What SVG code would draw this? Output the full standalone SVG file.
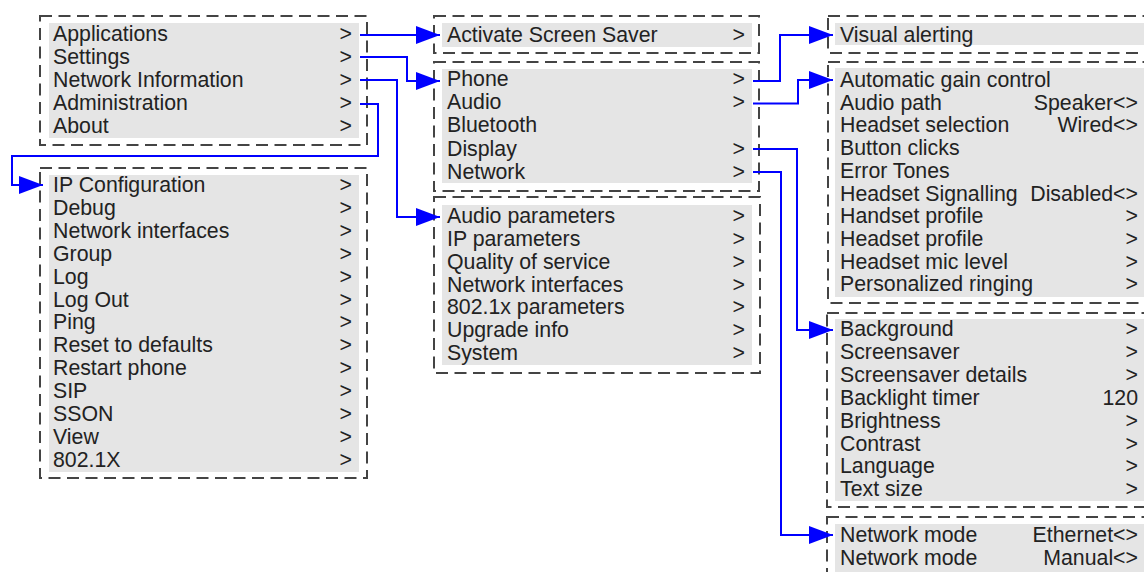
<svg xmlns="http://www.w3.org/2000/svg" width="1144" height="572" viewBox="0 0 1144 572">
<style>
.frame{fill:#fff;stroke:#444;stroke-width:2;stroke-dasharray:12 6.5}
.bg{fill:#e5e5e5}
text{font-family:"Liberation Sans",Arial,sans-serif;font-size:21.3px;fill:#222}
.r{text-anchor:end}
.conn{fill:none;stroke:#0000ff;stroke-width:2}
</style>
<defs>
<marker id="ah" markerUnits="userSpaceOnUse" markerWidth="26" markerHeight="20" refX="24" refY="9" orient="auto">
<path d="M0,0 L24,9 L0,18 Z" fill="#0000ff"/>
</marker>
</defs>
<rect width="1144" height="572" fill="#fff"/>

<g id="main-menu">
<rect class="frame" x="40" y="16" width="327" height="129"/>
<rect class="bg" x="49" y="23" width="310" height="115"/>
<text x="53" y="40.5">Applications</text><text class="r" x="352" y="40.5">&gt;</text>
<text x="53" y="63.7">Settings</text><text class="r" x="352" y="63.7">&gt;</text>
<text x="53" y="86.9">Network Information</text><text class="r" x="352" y="86.9">&gt;</text>
<text x="53" y="110.1">Administration</text><text class="r" x="352" y="110.1">&gt;</text>
<text x="53" y="133.3">About</text><text class="r" x="352" y="133.3">&gt;</text>
</g>

<g id="admin-menu">
<rect class="frame" x="40" y="168" width="327" height="310"/>
<rect class="bg" x="49" y="175" width="310" height="297"/>
<text x="53" y="192">IP Configuration</text><text class="r" x="352" y="192">&gt;</text>
<text x="53" y="214.9">Debug</text><text class="r" x="352" y="214.9">&gt;</text>
<text x="53" y="237.8">Network interfaces</text><text class="r" x="352" y="237.8">&gt;</text>
<text x="53" y="260.7">Group</text><text class="r" x="352" y="260.7">&gt;</text>
<text x="53" y="283.6">Log</text><text class="r" x="352" y="283.6">&gt;</text>
<text x="53" y="306.5">Log Out</text><text class="r" x="352" y="306.5">&gt;</text>
<text x="53" y="329.4">Ping</text><text class="r" x="352" y="329.4">&gt;</text>
<text x="53" y="352.3">Reset to defaults</text><text class="r" x="352" y="352.3">&gt;</text>
<text x="53" y="375.2">Restart phone</text><text class="r" x="352" y="375.2">&gt;</text>
<text x="53" y="398.1">SIP</text><text class="r" x="352" y="398.1">&gt;</text>
<text x="53" y="421">SSON</text><text class="r" x="352" y="421">&gt;</text>
<text x="53" y="443.9">View</text><text class="r" x="352" y="443.9">&gt;</text>
<text x="53" y="466.8">802.1X</text><text class="r" x="352" y="466.8">&gt;</text>
</g>

<g id="applications-menu">
<rect class="frame" x="434" y="16" width="325" height="37"/>
<rect class="bg" x="442" y="23" width="310" height="24"/>
<text x="447" y="41.5">Activate Screen Saver</text><text class="r" x="745" y="41.5">&gt;</text>
</g>

<g id="settings-menu">
<rect class="frame" x="434" y="62" width="325" height="129"/>
<rect class="bg" x="442" y="69" width="310" height="114"/>
<text x="447" y="86">Phone</text><text class="r" x="745" y="86">&gt;</text>
<text x="447" y="109.2">Audio</text><text class="r" x="745" y="109.2">&gt;</text>
<text x="447" y="132.4">Bluetooth</text>
<text x="447" y="155.6">Display</text><text class="r" x="745" y="155.6">&gt;</text>
<text x="447" y="178.8">Network</text><text class="r" x="745" y="178.8">&gt;</text>
</g>

<g id="network-info-menu">
<rect class="frame" x="434" y="197" width="326" height="176"/>
<rect class="bg" x="442" y="205" width="310" height="160"/>
<text x="447" y="223">Audio parameters</text><text class="r" x="745" y="223">&gt;</text>
<text x="447" y="245.9">IP parameters</text><text class="r" x="745" y="245.9">&gt;</text>
<text x="447" y="268.7">Quality of service</text><text class="r" x="745" y="268.7">&gt;</text>
<text x="447" y="291.6">Network interfaces</text><text class="r" x="745" y="291.6">&gt;</text>
<text x="447" y="314.4">802.1x parameters</text><text class="r" x="745" y="314.4">&gt;</text>
<text x="447" y="337.3">Upgrade info</text><text class="r" x="745" y="337.3">&gt;</text>
<text x="447" y="360">System</text><text class="r" x="745" y="360">&gt;</text>
</g>

<g id="phone-menu">
<rect class="frame" x="828" y="16" width="340" height="37"/>
<rect class="bg" x="835" y="23" width="320" height="22"/>
<text x="840" y="42">Visual alerting</text>
</g>

<g id="audio-menu">
<rect class="frame" x="828" y="62" width="340" height="241"/>
<rect class="bg" x="835" y="68" width="320" height="229"/>
<text x="840" y="87">Automatic gain control</text>
<text x="840" y="109.7">Audio path</text><text class="r" x="1138" y="109.7">Speaker&lt;&gt;</text>
<text x="840" y="132.4">Headset selection</text><text class="r" x="1138" y="132.4">Wired&lt;&gt;</text>
<text x="840" y="155.1">Button clicks</text>
<text x="840" y="177.8">Error Tones</text>
<text x="840" y="200.5">Headset Signalling</text><text class="r" x="1138" y="200.5">Disabled&lt;&gt;</text>
<text x="840" y="223.2">Handset profile</text><text class="r" x="1138" y="223.2">&gt;</text>
<text x="840" y="245.9">Headset profile</text><text class="r" x="1138" y="245.9">&gt;</text>
<text x="840" y="268.6">Headset mic level</text><text class="r" x="1138" y="268.6">&gt;</text>
<text x="840" y="291.3">Personalized ringing</text><text class="r" x="1138" y="291.3">&gt;</text>
</g>

<g id="display-menu">
<rect class="frame" x="827" y="313" width="340" height="194"/>
<rect class="bg" x="835" y="319" width="320" height="182"/>
<text x="840" y="336">Background</text><text class="r" x="1138" y="336">&gt;</text>
<text x="840" y="358.9">Screensaver</text><text class="r" x="1138" y="358.9">&gt;</text>
<text x="840" y="381.8">Screensaver details</text><text class="r" x="1138" y="381.8">&gt;</text>
<text x="840" y="404.7">Backlight timer</text><text class="r" x="1138" y="404.7">120</text>
<text x="840" y="427.6">Brightness</text><text class="r" x="1138" y="427.6">&gt;</text>
<text x="840" y="450.5">Contrast</text><text class="r" x="1138" y="450.5">&gt;</text>
<text x="840" y="473.4">Language</text><text class="r" x="1138" y="473.4">&gt;</text>
<text x="840" y="496.3">Text size</text><text class="r" x="1138" y="496.3">&gt;</text>
</g>

<g id="network-menu">
<rect class="frame" x="827" y="517" width="340" height="80"/>
<rect class="bg" x="835" y="524" width="320" height="60"/>
<text x="840" y="542">Network mode</text><text class="r" x="1138" y="542">Ethernet&lt;&gt;</text>
<text x="840" y="564.5">Network mode</text><text class="r" x="1138" y="564.5">Manual&lt;&gt;</text>
</g>

<g id="connectors">
<path class="conn" marker-end="url(#ah)" d="M360,35 H440"/>
<path class="conn" marker-end="url(#ah)" d="M360,57 H407 V81 H440"/>
<path class="conn" marker-end="url(#ah)" d="M360,80 H397 V217 H440"/>
<path class="conn" marker-end="url(#ah)" d="M360,104 H378 V156 H12 V185 H43"/>
<path class="conn" marker-end="url(#ah)" d="M753,81 H780 V35 H833"/>
<path class="conn" marker-end="url(#ah)" d="M753,103.5 H798 V80 H833"/>
<path class="conn" marker-end="url(#ah)" d="M753,149 H797 V330 H833"/>
<path class="conn" marker-end="url(#ah)" d="M753,172 H781 V535 H833"/>
</g>
</svg>
